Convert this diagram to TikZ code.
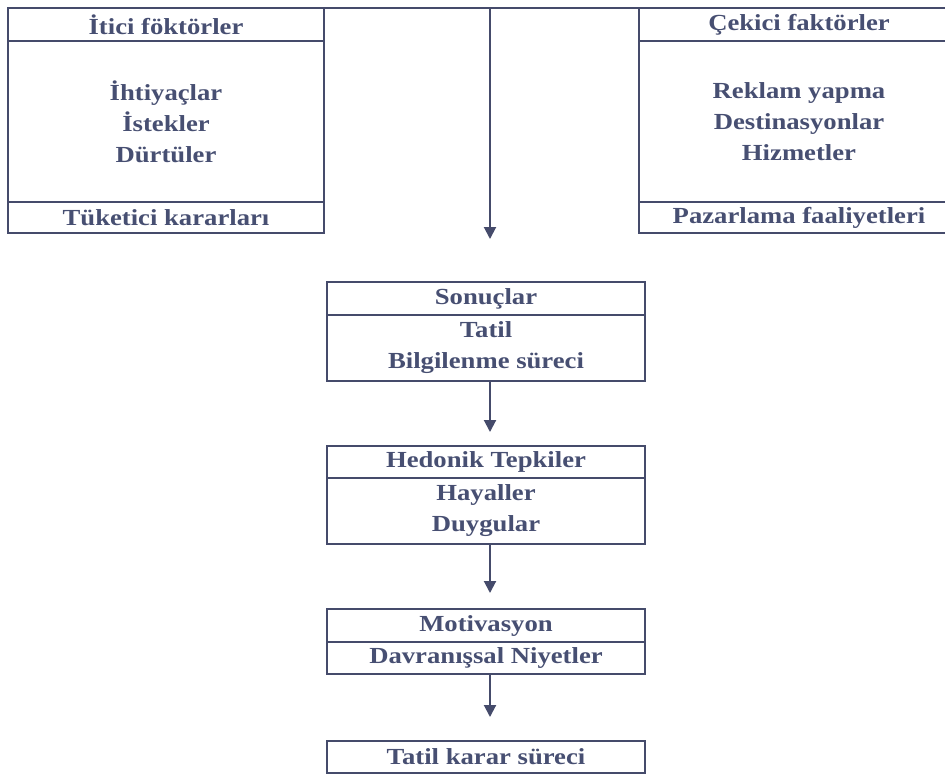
\documentclass[tikz,border=0pt]{standalone}
\usepackage{fontspec}
\setmainfont{Liberation Serif}[FakeStretch=1.16]
\usetikzlibrary{arrows.meta}
\definecolor{ink}{HTML}{454B6B}
\definecolor{txt}{HTML}{474F72}
\begin{document}
\begin{tikzpicture}[x=1pt,y=-1pt,
  sec/.style={draw=ink, line width=2pt, rectangle, inner sep=0pt, outer sep=0pt, text=txt,
    font=\fontsize{23}{31}\selectfont\bfseries, align=center, anchor=north west},
  lw/.style={sec, minimum width=316pt},
  rw/.style={sec, minimum width=320pt},
  cw/.style={sec, minimum width=318pt},
  arr/.style={draw=ink, line width=2pt, -{Triangle[width=12pt,length=12pt]}}]
\fill[white] (0,0) rectangle (945,777);
\useasboundingbox (0,0) rectangle (945,777);
% left box
\node[lw, minimum height=33pt] (lt) at (8,8) {İtici föktörler};
\node[lw, minimum height=161pt] (lm) at (8,41) {İhtiyaçlar\\İstekler\\Dürtüler};
\node[lw, minimum height=31pt] (lb) at (8,202) {Tüketici kararları};
% right box
\node[rw, minimum height=33pt] (rt) at (639,8) {Çekici faktörler};
\node[rw, minimum height=161pt] (rm) at (639,41) {Reklam yapma\\Destinasyonlar\\Hizmetler};
\node[rw, minimum height=31pt] (rb) at (639,202) {Pazarlama faaliyetleri};
% central chain
\node[cw, minimum height=33pt] (s1) at (327,282) {Sonuçlar};
\node[cw, minimum height=66pt] (s2) at (327,315) {Tatil\\Bilgilenme süreci};
\node[cw, minimum height=32pt] (h1) at (327,446) {Hedonik Tepkiler};
\node[cw, minimum height=66pt] (h2) at (327,478) {Hayaller\\Duygular};
\node[cw, minimum height=33pt] (m1) at (327,609) {Motivasyon};
\node[cw, minimum height=32pt] (m2) at (327,642) {Davranışsal Niyetler};
\node[cw, minimum height=32pt] (t1) at (327,741) {Tatil karar süreci};
% top connecting line and central arrow
\draw[ink, line width=2pt] (lt.north east) -- (rt.north west);
\coordinate (c0) at (490,8);
\coordinate (c1) at (490,239);
\draw[arr] (c0) -- (c1);
\draw[arr, shorten >=14pt] ([xshift=4pt]s2.south) -- ([xshift=4pt]h1.north);
\draw[arr, shorten >=16pt] ([xshift=4pt]h2.south) -- ([xshift=4pt]m1.north);
\draw[arr, shorten >=24pt] ([xshift=4pt]m2.south) -- ([xshift=4pt]t1.north);
\end{tikzpicture}
\end{document}
